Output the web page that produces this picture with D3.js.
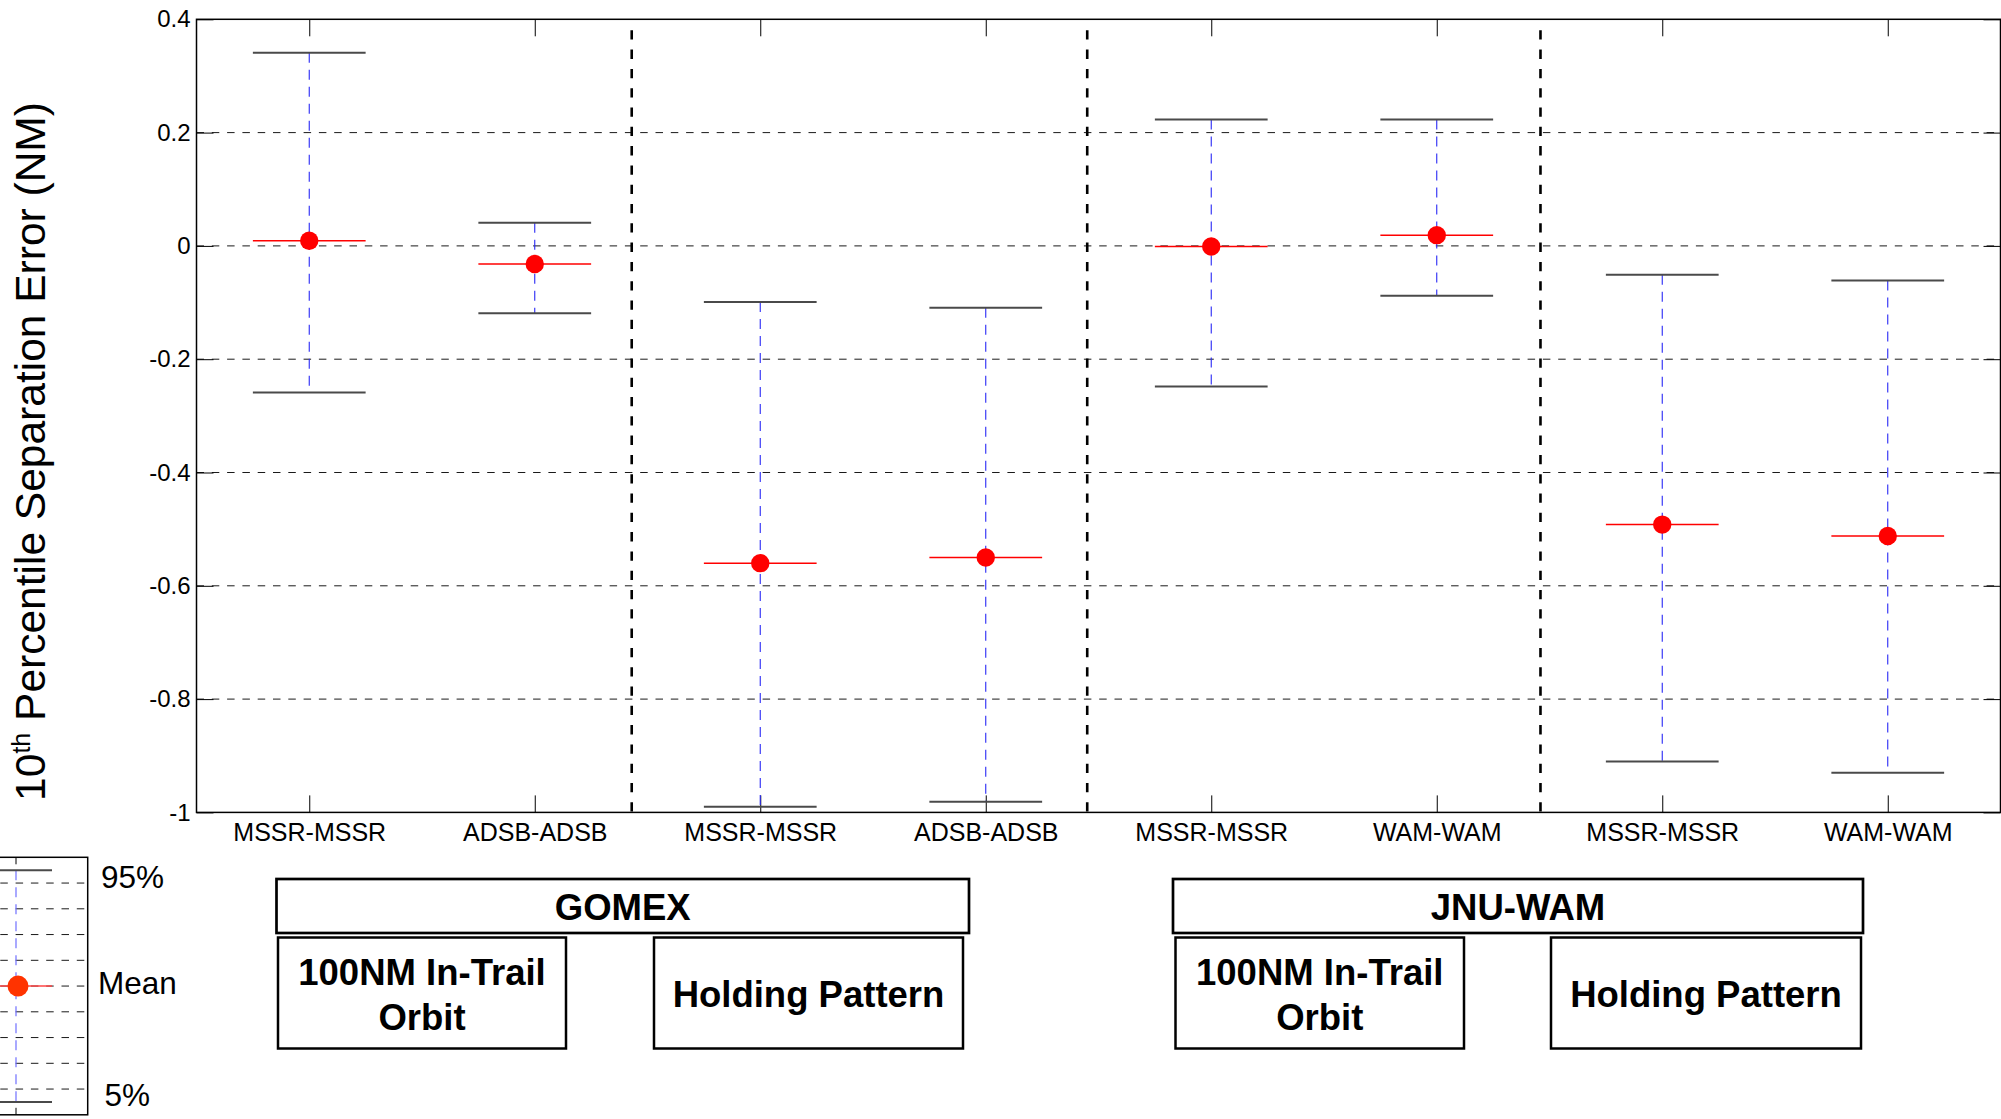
<!DOCTYPE html>
<html>
<head>
<meta charset="utf-8">
<script src="https://cdn.jsdelivr.net/npm/d3@7"></script>
<style>
  body { margin: 0; background: #fff; }
  svg { display: block; font-family: "Liberation Sans", Arial, sans-serif; }
</style>
</head>
<body>
<svg id="chart" width="2001" height="1119"></svg>
<script>
// data
const categories = ["MSSR-MSSR", "ADSB-ADSB", "MSSR-MSSR", "ADSB-ADSB", "MSSR-MSSR", "WAM-WAM", "MSSR-MSSR", "WAM-WAM"];
const upper95 = [0.341, 0.041, -0.099, -0.109, 0.223, 0.223, -0.051, -0.061];
const means = [0.009, -0.032, -0.560, -0.550, -0.001, 0.019, -0.492, -0.512];
const lower5 = [-0.259, -0.119, -0.990, -0.981, -0.248, -0.088, -0.910, -0.930];
const yTicks = [0.4, 0.2, 0, -0.2, -0.4, -0.6, -0.8, -1];
const gridValues = [0.2, 0, -0.2, -0.4, -0.6, -0.8];
const separators = [2.43, 4.45, 6.46];

const groupNames = ["GOMEX", "JNU-WAM"];
const scenarioNames = [["100NM In-Trail", "Orbit"], ["Holding Pattern"], ["100NM In-Trail", "Orbit"], ["Holding Pattern"]];
const legendLabels = ["95%", "Mean", "5%"];

// layout
const plotL = 196.5, plotR = 2000.5, plotT = 19.3, plotB = 812.4;
const tick = 17;

const svg = d3.select("#chart");

const xScale = d3.scaleLinear().domain([0.5, 8.5]).range([plotL, plotR]);
const yScale = d3.scaleLinear().domain([-1, 0.4]).range([plotB, plotT]);
const idx = d3.range(1, categories.length + 1);

// grid
svg.append("g")
   .selectAll("line")
   .data(gridValues)
   .join("line")
   .attr("x1", plotL).attr("x2", plotR)
   .attr("y1", d => yScale(d)).attr("y2", d => yScale(d))
   .attr("stroke", "#1a1a1a")
   .attr("stroke-width", 1)
   .attr("stroke-dasharray", "7.5,7.8");

// group separators
svg.append("g")
   .selectAll("line")
   .data(separators)
   .join("line")
   .attr("x1", d => xScale(d)).attr("x2", d => xScale(d))
   .attr("y1", plotT + 11).attr("y2", plotB)
   .attr("stroke", "#000")
   .attr("stroke-width", 2.6)
   .attr("stroke-dasharray", "9.3,10");

// axes
let xAxis = d3.axisBottom(xScale)
              .tickValues(idx)
              .tickFormat(d => categories[d - 1])
              .tickSizeInner(-tick).tickSizeOuter(0).tickPadding(11);
let gx = svg.append("g").attr("transform", `translate(0, ${plotB})`).call(xAxis);

let yAxis = d3.axisLeft(yScale)
              .tickValues(yTicks)
              .tickFormat(d => String(d))
              .tickSizeInner(-tick).tickSizeOuter(0).tickPadding(6);
let gy = svg.append("g").attr("transform", `translate(${plotL}, 0)`).call(yAxis);

let gxTop = svg.append("g").attr("transform", `translate(0, ${plotT})`)
               .call(d3.axisTop(xScale).tickValues(idx).tickFormat("").tickSizeInner(-tick).tickSizeOuter(0));
let gyRight = svg.append("g").attr("transform", `translate(${plotR}, 0)`)
               .call(d3.axisRight(yScale).tickValues(yTicks).tickFormat("").tickSizeInner(-tick).tickSizeOuter(0));

[gx, gy, gxTop, gyRight].forEach(g => {
    g.select(".domain").remove();
    g.selectAll("line").attr("stroke", "#000").attr("stroke-width", 1);
    g.selectAll("text").attr("fill", "#000").style("font-family", "'Liberation Sans', Arial, sans-serif");
});
gx.selectAll("text").style("font-size", "25px");
gy.selectAll("text").style("font-size", "24px");

svg.append("rect")
   .attr("x", plotL).attr("y", plotT)
   .attr("width", plotR - plotL).attr("height", plotB - plotT)
   .attr("fill", "none").attr("stroke", "#000").attr("stroke-width", 1.5);

// error bars
const halfW = 0.25;
let bars = svg.append("g").selectAll("g").data(idx).join("g");

bars.append("line")
    .attr("x1", d => xScale(d)).attr("x2", d => xScale(d))
    .attr("y1", d => yScale(upper95[d - 1])).attr("y2", d => yScale(lower5[d - 1]))
    .attr("stroke", "#2828f5").attr("stroke-width", 1.1)
    .attr("stroke-dasharray", "10,7");

bars.append("line")
    .attr("x1", d => xScale(d - halfW)).attr("x2", d => xScale(d + halfW))
    .attr("y1", d => yScale(upper95[d - 1])).attr("y2", d => yScale(upper95[d - 1]))
    .attr("stroke", "#4a4a4a").attr("stroke-width", 2);

bars.append("line")
    .attr("x1", d => xScale(d - halfW)).attr("x2", d => xScale(d + halfW))
    .attr("y1", d => yScale(lower5[d - 1])).attr("y2", d => yScale(lower5[d - 1]))
    .attr("stroke", "#4a4a4a").attr("stroke-width", 2);

bars.append("line")
    .attr("x1", d => xScale(d - halfW)).attr("x2", d => xScale(d + halfW))
    .attr("y1", d => yScale(means[d - 1])).attr("y2", d => yScale(means[d - 1]))
    .attr("stroke", "#ff0000").attr("stroke-width", 1.5);

bars.append("circle")
    .attr("cx", d => xScale(d))
    .attr("cy", d => yScale(means[d - 1]))
    .attr("r", 9.2)
    .attr("fill", "#ff0000");

// y title
let title = svg.append("text")
   .attr("transform", "translate(45, 451.5) rotate(-90)")
   .attr("text-anchor", "middle")
   .style("font-size", "42.5px")
   .attr("fill", "#000");
title.append("tspan").text("10");
title.append("tspan").attr("dy", -15).style("font-size", "25px").text("th");
title.append("tspan").attr("dy", 15).text(" Percentile Separation Error (NM)");

// annotation boxes under the axis
const groupBoxes = [{x0: 276.5, x1: 969}, {x0: 1173, x1: 1863}];
const scenarioBoxes = [{x0: 278, x1: 566}, {x0: 654, x1: 963}, {x0: 1175.5, x1: 1464}, {x0: 1551, x1: 1861}];
const boxFont = "36.5px";

groupBoxes.forEach((b, i) => {
    svg.append("rect")
       .attr("x", b.x0).attr("y", 879).attr("width", b.x1 - b.x0).attr("height", 54)
       .attr("fill", "#fff").attr("stroke", "#000").attr("stroke-width", 2.7);
    svg.append("text")
       .attr("x", (b.x0 + b.x1) / 2).attr("y", 920)
       .attr("text-anchor", "middle")
       .style("font-size", boxFont).style("font-weight", "bold")
       .text(groupNames[i]);
});

scenarioBoxes.forEach((b, i) => {
    svg.append("rect")
       .attr("x", b.x0).attr("y", 937.5).attr("width", b.x1 - b.x0).attr("height", 111)
       .attr("fill", "#fff").attr("stroke", "#000").attr("stroke-width", 2.5);
    let lines = scenarioNames[i % scenarioNames.length];
    let baselines = lines.length === 2 ? [985, 1030] : [1007];
    lines.forEach((t, j) => {
        svg.append("text")
           .attr("x", (b.x0 + b.x1) / 2).attr("y", baselines[j])
           .attr("text-anchor", "middle")
           .style("font-size", boxFont).style("font-weight", "bold")
           .text(t);
    });
});

// legend (small axes, partly cut off at the left)
const legendY = d3.scaleLinear().domain([0, 10]).range([1114.8, 857.3]);
const legendX = d3.scaleLinear().domain([-1, 1]).range([-20, 52]);
let lg = svg.append("g");

lg.selectAll("line.grid")
  .data(d3.range(1, 10))
  .join("line")
  .attr("class", "grid")
  .attr("x1", legendX(-1)).attr("x2", 87.7)
  .attr("y1", d => legendY(d)).attr("y2", d => legendY(d))
  .attr("stroke", "#1a1a1a").attr("stroke-width", 1)
  .attr("stroke-dasharray", "7.5,7.8").attr("stroke-dashoffset", -5);

lg.append("line")
  .attr("x1", legendX(0)).attr("x2", legendX(0))
  .attr("y1", legendY(9.5)).attr("y2", legendY(0.5))
  .attr("stroke", "#7070ff").attr("stroke-width", 1.2)
  .attr("stroke-dasharray", "10,7");

[9.5, 0.5].forEach(v => {
    lg.append("line")
      .attr("x1", legendX(-1)).attr("x2", legendX(1))
      .attr("y1", legendY(v)).attr("y2", legendY(v))
      .attr("stroke", "#4a4a4a").attr("stroke-width", 2);
});
lg.append("line")
  .attr("x1", legendX(-1)).attr("x2", legendX(1))
  .attr("y1", legendY(5)).attr("y2", legendY(5))
  .attr("stroke", "#ff4444").attr("stroke-width", 1.5);
lg.append("circle")
  .attr("cx", legendX(0) + 2).attr("cy", legendY(5)).attr("r", 10.5)
  .attr("fill", "#ff3300");

[[legendY(10), 7], [legendY(0), -7]].forEach(([y, len]) => {
    lg.append("line")
      .attr("x1", legendX(0)).attr("x2", legendX(0))
      .attr("y1", y).attr("y2", y + len)
      .attr("stroke", "#000").attr("stroke-width", 1);
});

lg.append("rect")
  .attr("x", -40).attr("y", legendY(10))
  .attr("width", 87.7 + 40).attr("height", legendY(0) - legendY(10))
  .attr("fill", "none").attr("stroke", "#000").attr("stroke-width", 1.5);

const legendText = [{x: 101, y: 888}, {x: 98, y: 994}, {x: 104.5, y: 1106}];
legendLabels.forEach((t, i) => {
    svg.append("text")
       .attr("x", legendText[i].x).attr("y", legendText[i].y)
       .style("font-size", "31.5px")
       .text(t);
});
</script>
</body>
</html>
